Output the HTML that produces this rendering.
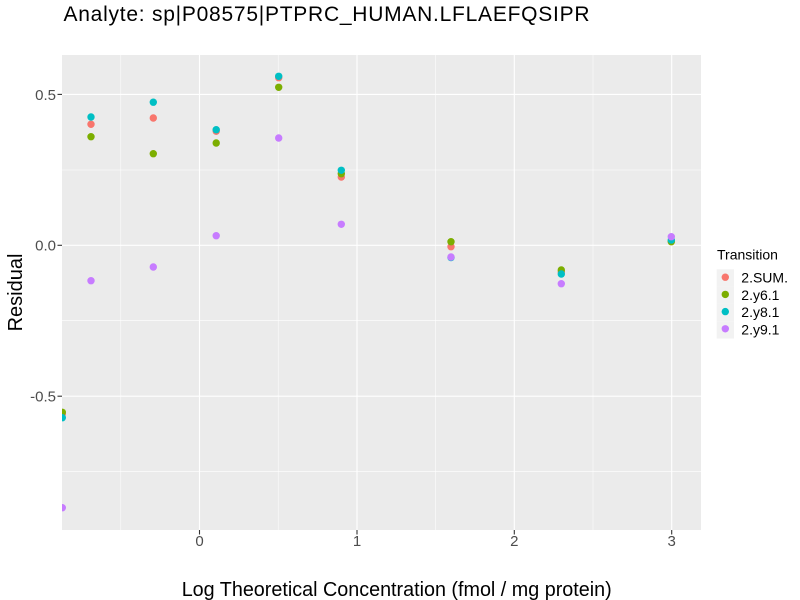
<!DOCTYPE html>
<html><head><meta charset="utf-8"><style>
html,body{margin:0;padding:0;background:#fff;}
svg{display:block;font-family:"Liberation Sans",Arial,sans-serif;}
</style></head><body>
<svg width="800" height="600" viewBox="0 0 800 600" xmlns="http://www.w3.org/2000/svg">
<defs><clipPath id="pc"><rect x="62" y="55" width="639" height="475"/></clipPath></defs>
<rect x="0" y="0" width="800" height="600" fill="#fff"/>
<text x="63.5" y="21" font-size="21" fill="#000" textLength="526" lengthAdjust="spacing">Analyte: sp|P08575|PTPRC_HUMAN.LFLAEFQSIPR</text>
<rect x="62" y="55" width="639" height="475" fill="#EBEBEB"/>
<g stroke="#fff" stroke-width="0.55">
<line x1="120.8" y1="55" x2="120.8" y2="530"/>
<line x1="278.2" y1="55" x2="278.2" y2="530"/>
<line x1="435.6" y1="55" x2="435.6" y2="530"/>
<line x1="593" y1="55" x2="593" y2="530"/>
<line x1="62" y1="170" x2="701" y2="170"/>
<line x1="62" y1="320.7" x2="701" y2="320.7"/>
<line x1="62" y1="471.7" x2="701" y2="471.7"/>
</g>
<g stroke="#fff" stroke-width="1.1">
<line x1="199.5" y1="55" x2="199.5" y2="530"/>
<line x1="357" y1="55" x2="357" y2="530"/>
<line x1="514.3" y1="55" x2="514.3" y2="530"/>
<line x1="671.7" y1="55" x2="671.7" y2="530"/>
<line x1="62" y1="94.4" x2="701" y2="94.4"/>
<line x1="62" y1="245.3" x2="701" y2="245.3"/>
<line x1="62" y1="396.2" x2="701" y2="396.2"/>
</g>
<g clip-path="url(#pc)">
<g fill="#F8766D">
<circle cx="62.3" cy="414" r="3.7"/><circle cx="91" cy="124.3" r="3.7"/><circle cx="153.3" cy="118" r="3.7"/><circle cx="216.2" cy="131.3" r="3.7"/><circle cx="278.7" cy="77.7" r="3.7"/><circle cx="341.3" cy="177" r="3.7"/><circle cx="451" cy="246.7" r="3.7"/><circle cx="561.3" cy="272" r="3.7"/><circle cx="671.3" cy="241" r="3.7"/>
</g>
<g fill="#7CAE00">
<circle cx="62.3" cy="412.3" r="3.7"/><circle cx="91" cy="136.7" r="3.7"/><circle cx="153.3" cy="153.7" r="3.7"/><circle cx="216.2" cy="143" r="3.7"/><circle cx="278.7" cy="87.3" r="3.7"/><circle cx="341.3" cy="173.7" r="3.7"/><circle cx="451" cy="241.7" r="3.7"/><circle cx="561.3" cy="270" r="3.7"/><circle cx="671.3" cy="241.7" r="3.7"/>
</g>
<g fill="#00BFC4">
<circle cx="62.3" cy="417.7" r="3.7"/><circle cx="91" cy="117" r="3.7"/><circle cx="153.3" cy="102.2" r="3.7"/><circle cx="216.2" cy="129.7" r="3.7"/><circle cx="278.7" cy="76.3" r="3.7"/><circle cx="341.3" cy="170.3" r="3.7"/><circle cx="451" cy="257.5" r="3.7"/><circle cx="561.3" cy="274" r="3.7"/><circle cx="671.3" cy="240" r="3.7"/>
</g>
<g fill="#C77CFF">
<circle cx="62.3" cy="507.7" r="3.7"/><circle cx="91" cy="280.7" r="3.7"/><circle cx="153.3" cy="267" r="3.7"/><circle cx="216.2" cy="235.7" r="3.7"/><circle cx="278.7" cy="138" r="3.7"/><circle cx="341.3" cy="224.3" r="3.7"/><circle cx="451" cy="257" r="3.7"/><circle cx="561.3" cy="283.7" r="3.7"/><circle cx="671.3" cy="236.7" r="3.7"/>
</g>
</g>
<g stroke="#333" stroke-width="1.1">
<line x1="57.5" y1="94.4" x2="62" y2="94.4"/>
<line x1="57.5" y1="245.3" x2="62" y2="245.3"/>
<line x1="57.5" y1="396.2" x2="62" y2="396.2"/>
<line x1="199.5" y1="530" x2="199.5" y2="534.5"/>
<line x1="357" y1="530" x2="357" y2="534.5"/>
<line x1="514.3" y1="530" x2="514.3" y2="534.5"/>
<line x1="671.7" y1="530" x2="671.7" y2="534.5"/>
</g>
<g font-size="15" fill="#4D4D4D" text-anchor="end">
<text x="56" y="99.8">0.5</text>
<text x="56" y="250.7">0.0</text>
<text x="56" y="401.6">-0.5</text>
</g>
<g font-size="15" fill="#4D4D4D" text-anchor="middle">
<text x="199.5" y="546">0</text>
<text x="357" y="546">1</text>
<text x="514.3" y="546">2</text>
<text x="671.7" y="546">3</text>
</g>
<text x="181.7" y="596" font-size="20" fill="#000" textLength="430" lengthAdjust="spacingAndGlyphs">Log Theoretical Concentration (fmol / mg protein)</text>
<text transform="translate(22,292.5) rotate(-90)" font-size="20" fill="#000" text-anchor="middle">Residual</text>
<text x="717" y="259.5" font-size="14" fill="#000">Transition</text>
<g fill="#F2F2F2">
<rect x="716.7" y="269.3" width="17.3" height="17.3"/>
<rect x="716.7" y="286.6" width="17.3" height="17.3"/>
<rect x="716.7" y="303.9" width="17.3" height="17.3"/>
<rect x="716.7" y="321.2" width="17.3" height="17.3"/>
</g>
<circle cx="725.3" cy="277.2" r="3.7" fill="#F8766D"/>
<circle cx="725.3" cy="294.4" r="3.7" fill="#7CAE00"/>
<circle cx="725.3" cy="311.6" r="3.7" fill="#00BFC4"/>
<circle cx="725.3" cy="328.8" r="3.7" fill="#C77CFF"/>
<g font-size="14" fill="#000">
<text x="741.3" y="282.7">2.SUM.</text>
<text x="741.3" y="299.9">2.y6.1</text>
<text x="741.3" y="317.1">2.y8.1</text>
<text x="741.3" y="334.3">2.y9.1</text>
</g>
</svg>
</body></html>
